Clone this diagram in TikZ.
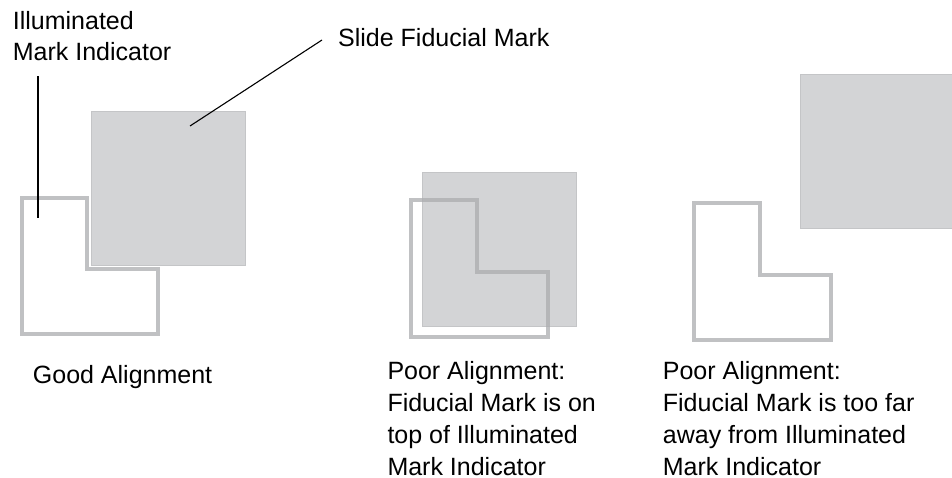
\documentclass[tikz,border=0pt]{standalone}
\usepackage{fontspec}
\setmainfont{Liberation Sans}
\definecolor{sqfill}{RGB}{211,212,214}
\definecolor{sqedge}{RGB}{196,197,199}
\definecolor{lmark}{RGB}{171,172,175}
\tikzset{
  slidesq/.style={fill=sqfill,draw=sqedge,line width=1pt},
  lshape/.style={draw=lmark,draw opacity=0.75,line width=4pt,line join=miter},
  leader/.style={draw=black,line width=1.6pt},
  leaderthin/.style={draw=black,line width=1.1pt},
  lbl/.style={inner sep=0pt,align=left,text=black,font=\fontsize{25}{31}\selectfont},
  lblwide/.style={inner sep=0pt,align=left,text=black,font=\fontsize{25}{32}\selectfont}
}
\begin{document}
\begin{tikzpicture}[x=1pt,y=-1pt]
\useasboundingbox (0,0) rectangle (952,477);
\clip (0,0) rectangle (952,477);
% slide fiducial squares
\path[slidesq] (91,111) rectangle (245,265);
\path[slidesq] (422,172) rectangle (576,326);
\path[slidesq] (800,74) rectangle (956,228);
% illuminated mark indicators (L shapes)
\draw[lshape] (22,198) -- (87,198) -- (87,269) -- (158,269) -- (158,334) -- (22,334) -- cycle;
\draw[lshape] (411,200) -- (477,200) -- (477,272) -- (548,272) -- (548,337) -- (411,337) -- cycle;
\draw[lshape] (694,203) -- (760,203) -- (760,275) -- (831,275) -- (831,340) -- (694,340) -- cycle;
% labels
\node[lbl,anchor=north west] (ill) at (12.7,11) {Illuminated\\Mark Indicator};
\node[lbl,anchor=base west] (slide) at (338,46) {Slide Fiducial Mark};
\node[lbl,anchor=base west] (good) at (32.7,383) {Good Alignment};
\node[lblwide,anchor=north west] (poor1) at (387.3,361) {Poor Alignment:\\Fiducial Mark is on\\top of Illuminated\\Mark Indicator};
\node[lblwide,anchor=north west] (poor2) at (662.7,361) {Poor Alignment:\\Fiducial Mark is too far\\away from Illuminated\\Mark Indicator};
% leader lines
\coordinate (illstart) at (37.7,76);
\coordinate (illend) at (37.7,218);
\coordinate (slidestart) at (322,40);
\coordinate (slideend) at (190,126);
\draw[leader] (illstart) -- (illend);
\draw[leaderthin] (slidestart) -- (slideend);
\end{tikzpicture}
\end{document}
